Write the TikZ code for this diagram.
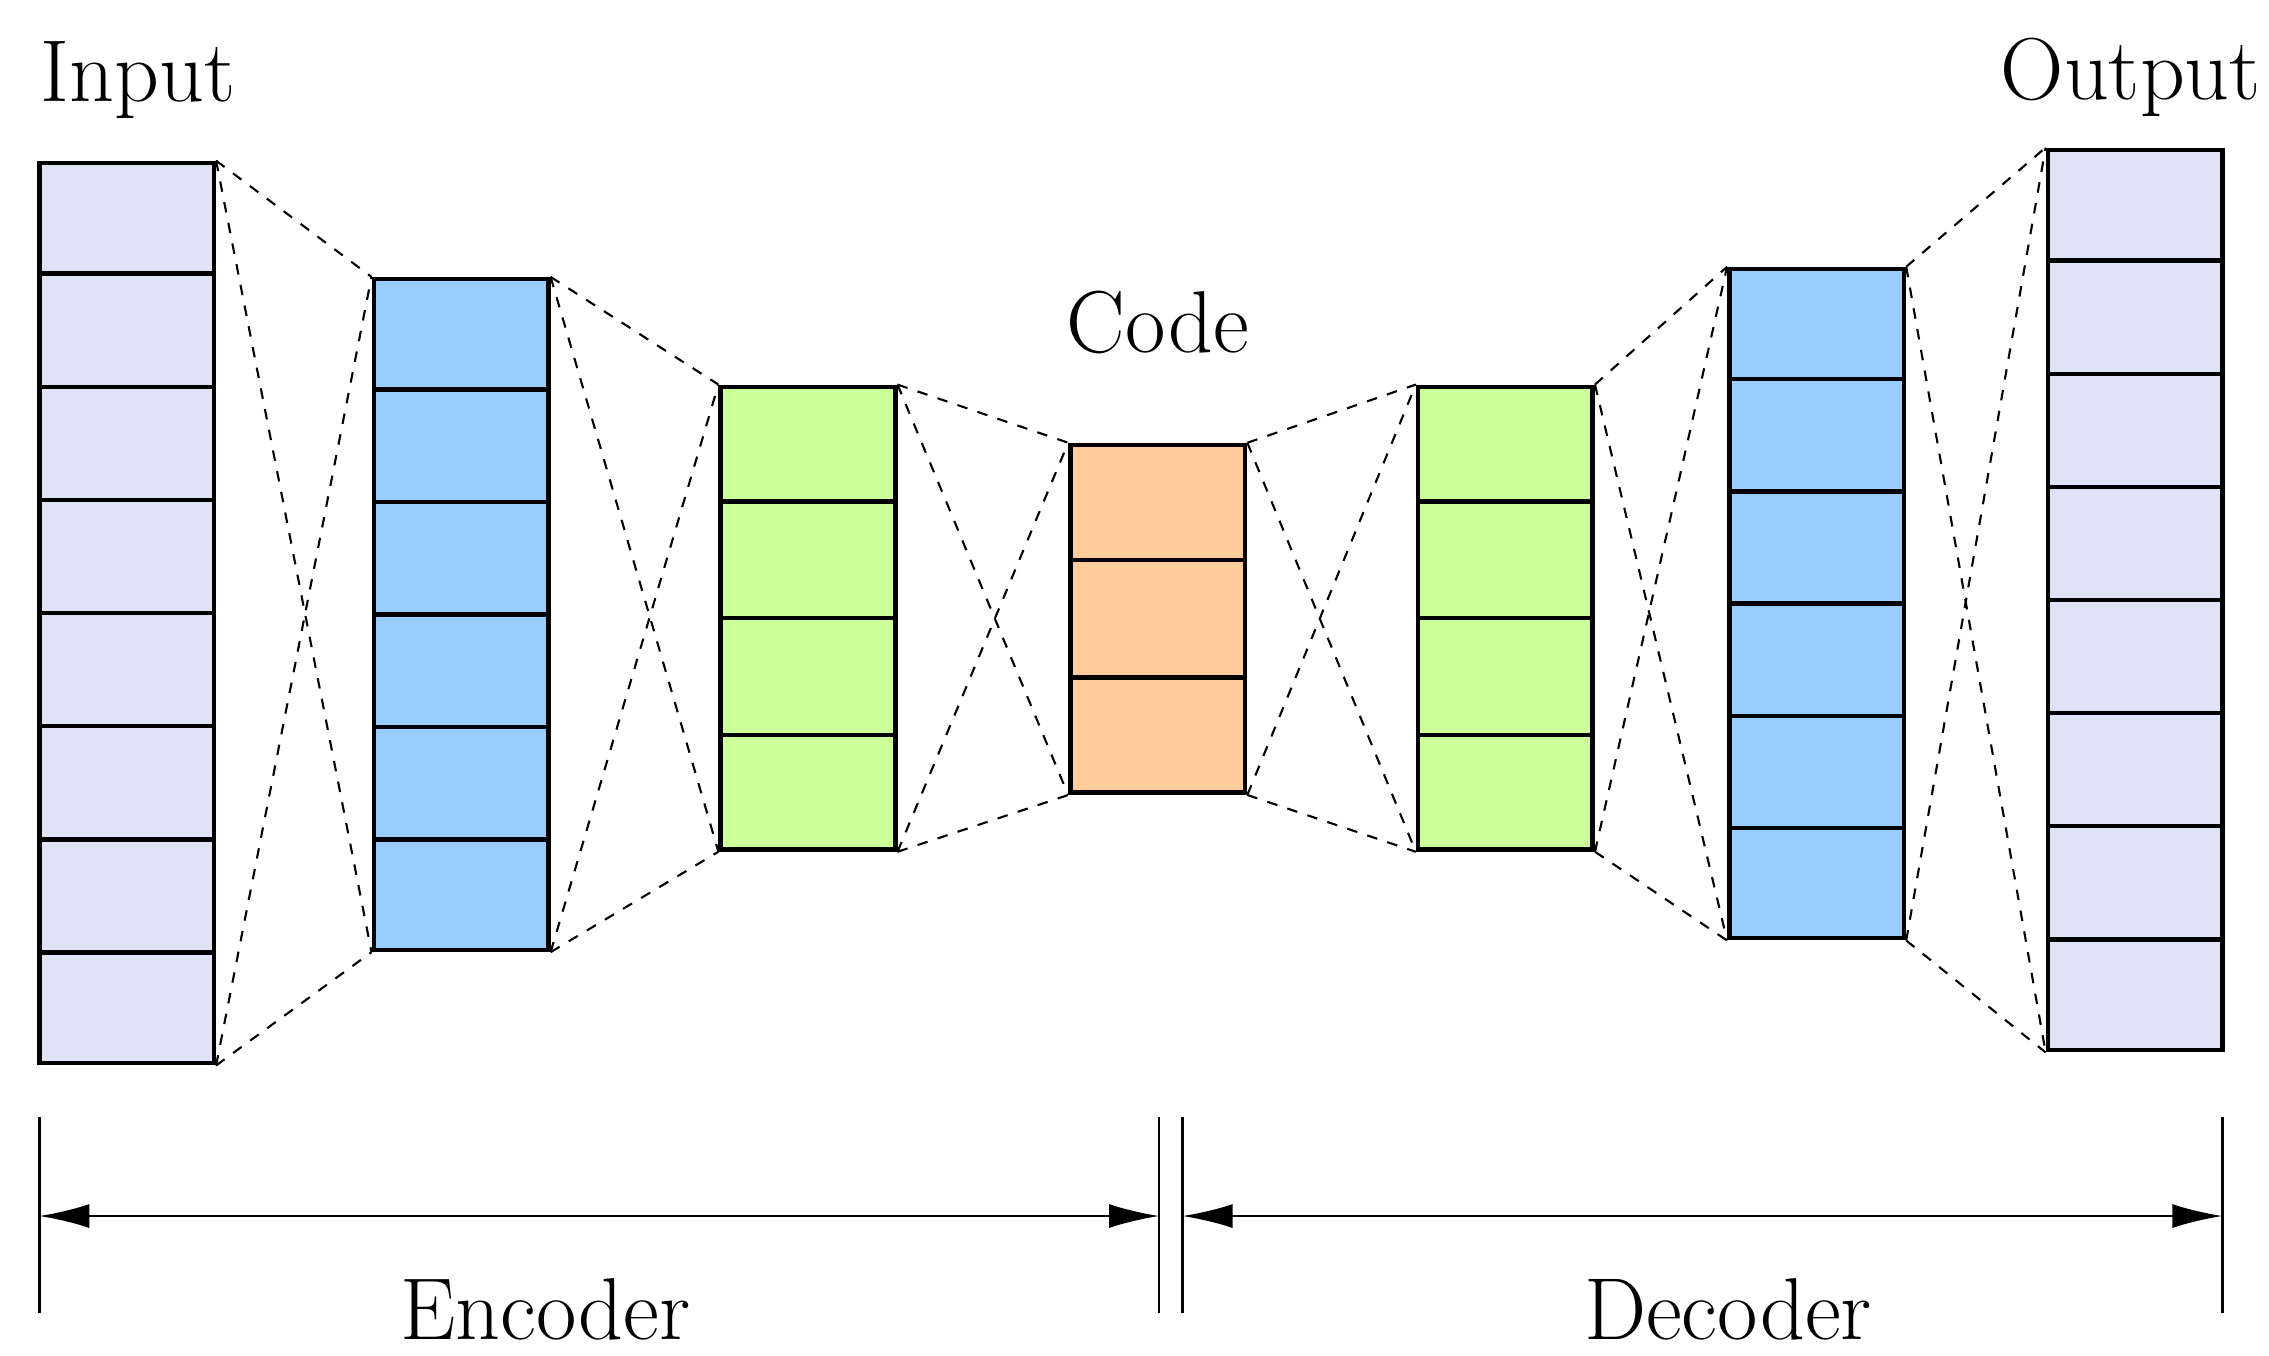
\documentclass[tikz,border=0pt]{standalone}
\usetikzlibrary{arrows.meta, calc}
\definecolor{inpcol}{RGB}{224,226,245}
\definecolor{enccol}{RGB}{153,204,255}
\definecolor{midcol}{RGB}{204,255,153}
\definecolor{codecol}{RGB}{255,204,153}
\tikzset{
  layer/.style={rectangle, draw=black, line width=1.3pt, minimum width=1.745cm, inner sep=0pt},
  link/.style={dashed, line width=0.6pt},
  lbl/.style={font=\fontsize{25}{30}\selectfont},
  span/.style={line width=0.7pt, <->, >={Latex[length=0.5cm, width=0.24cm]}}
}
\begin{document}
\begin{tikzpicture}[x=0.014545cm, y=-0.014545cm]
  \useasboundingbox (0,0) rectangle (1560,932);
  % layers
  \foreach \nm/\px/\py/\h/\n/\col in {inp/87/421.5/9.0/8/inpcol, enca/317/422.5/6.705/6/enccol,
      encb/555.5/425/4.625/4/midcol, code/796/425.5/3.476/3/codecol,
      decb/1035/425/4.625/4/midcol, deca/1249/415/6.69/6/enccol, out/1468/412.5/9.0/8/inpcol} {
    \node (\nm) [layer, fill=\col, minimum height=\h cm] at (\px,\py) {};
    \foreach \i in {1,...,\n} {
      \ifnum\i<\n
        \draw [line width=1.3pt] ($(\nm.north west)!\i/\n!(\nm.south west)$) -- ($(\nm.north east)!\i/\n!(\nm.south east)$);
      \fi
    }
  }
  % dashed links
  \foreach \a/\b in {inp/enca, enca/encb, encb/code, code/decb, decb/deca, deca/out} {
    \draw [link] (\a.north east) -- (\b.north west);
    \draw [link] (\a.north east) -- (\b.south west);
    \draw [link] (\a.south east) -- (\b.north west);
    \draw [link] (\a.south east) -- (\b.south west);
  }
  % labels
  \node (inplbl) [lbl] at (95,55) {Input};
  \node (outlbl) [lbl] at (1465,53) {Output};
  \node (codelbl) [lbl] at (796,222) {Code};
  % encoder / decoder spans
  \coordinate (ea) at (27,768);  \coordinate (eb) at (27,903);
  \coordinate (ec) at (797,768); \coordinate (ed) at (797,903);
  \coordinate (da) at (813,768); \coordinate (db) at (813,903);
  \coordinate (dc) at (1528,768); \coordinate (dd) at (1528,903);
  \draw [line width=0.7pt] (ea) -- (eb);
  \draw [line width=0.7pt] (ec) -- (ed);
  \draw [line width=0.7pt] (da) -- (db);
  \draw [line width=0.7pt] (dc) -- (dd);
  \draw [span] ($(ea)!0.504!(eb)$) -- ($(ec)!0.504!(ed)$);
  \draw [span] ($(da)!0.504!(db)$) -- ($(dc)!0.504!(dd)$);
  \node (enclbl) [lbl] at (375,900) {Encoder};
  \node (declbl) [lbl] at (1188,900) {Decoder};
\end{tikzpicture}
\end{document}
